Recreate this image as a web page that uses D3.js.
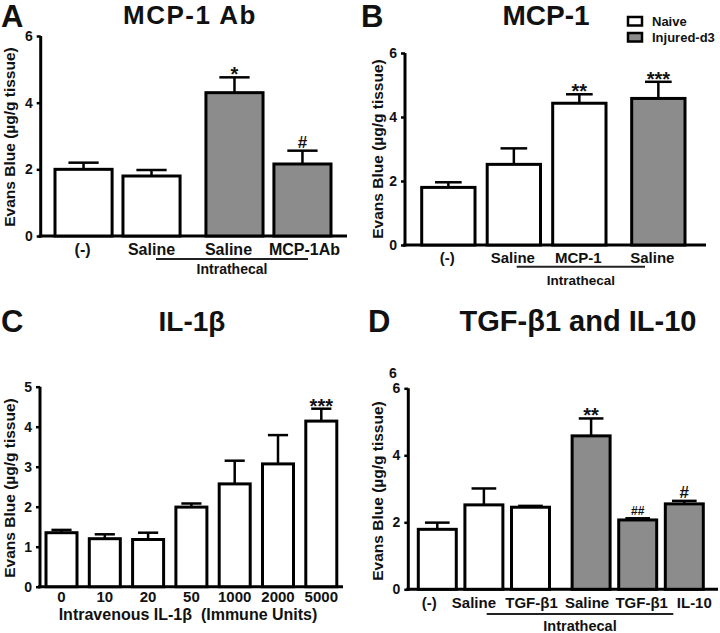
<!DOCTYPE html>
<html>
<head>
<meta charset="utf-8">
<script src="https://cdn.jsdelivr.net/npm/d3@7/dist/d3.min.js"></script>
<style>
  html, body { margin: 0; padding: 0; background: #fff; }
  svg { display: block; }
  text { font-family: "Liberation Sans", Arial, Helvetica, sans-serif; font-weight: bold; fill: #111; }
</style>
</head>
<body>
<svg id="chart" width="720" height="633"></svg>
<script>
// ---------------- DATA ----------------
const groupNames = ["Naive", "Injured-d3"];

const aCats   = ["(-)", "Saline", "Saline", "MCP-1Ab"];
const aMeans  = [2.0, 1.8, 4.3, 2.16];
const aSem    = [0.2, 0.18, 0.46, 0.4];
const aGroups = ["Naive", "Naive", "Injured-d3", "Injured-d3"];
const aMarks  = ["", "", "*", "#"];
const aTicks  = [0, 2, 4, 6];

const bCats   = ["(-)", "Saline", "MCP-1", "Saline"];
const bMeans  = [1.8, 2.52, 4.43, 4.58];
const bSem    = [0.16, 0.5, 0.28, 0.52];
const bGroups = ["Naive", "Naive", "Naive", "Injured-d3"];
const bMarks  = ["", "", "**", "***"];
const bTicks  = [0, 2, 4, 6];

const cCats   = ["0", "10", "20", "50", "1000", "2000", "5000"];
const cMeans  = [1.35, 1.2, 1.18, 1.99, 2.57, 3.07, 4.14];
const cSem    = [0.07, 0.11, 0.17, 0.09, 0.58, 0.72, 0.31];
const cGroups = ["Naive", "Naive", "Naive", "Naive", "Naive", "Naive", "Naive"];
const cMarks  = ["", "", "", "", "", "", "***"];
const cTicks  = [0, 1, 2, 3, 4, 5];

const dCats   = ["(-)", "Saline", "TGF-β1", "Saline", "TGF-β1", "IL-10"];
const dMeans  = [1.79, 2.52, 2.45, 4.58, 2.07, 2.55];
const dSem    = [0.2, 0.49, 0.04, 0.52, 0.05, 0.09];
const dGroups = ["Naive", "Naive", "Naive", "Injured-d3", "Injured-d3", "Injured-d3"];
const dMarks  = ["", "", "", "**", "##", "#"];
const dTicks  = [0, 2, 4, 6];

// ---------------- DRAW ----------------
const svg = d3.select("#chart");
const color = d3.scaleOrdinal().domain(groupNames).range(["#ffffff", "#8c8c8c"]);

function panel(cfg) {
  const g = svg.append("g");
  const y = d3.scaleLinear().domain([0, cfg.ymax]).range([cfg.y0, cfg.ytop]);
  const x = d3.scaleBand().domain(d3.range(cfg.cats.length)).range(cfg.xr)
    .paddingInner(cfg.pad).paddingOuter(0);
  const bx = i => x(i) + (cfg.gapAt != null && i >= cfg.gapAt ? cfg.gap : 0);
  const bw = x.bandwidth();
  const data = cfg.cats.map((c, i) => ({ i, c, m: cfg.means[i], s: cfg.sem[i], g: cfg.groups[i], k: cfg.marks[i] }));

  // x axis line
  g.append("line").attr("x1", cfg.ax - 2).attr("x2", cfg.axEnd)
    .attr("y1", y(0)).attr("y2", y(0)).attr("stroke", "#000").attr("stroke-width", 3);

  // error bars
  const eb = g.selectAll(".eb").data(data).enter().append("g");
  eb.append("line").attr("x1", d => bx(d.i) + bw / 2).attr("x2", d => bx(d.i) + bw / 2)
    .attr("y1", d => y(d.m)).attr("y2", d => y(d.m + d.s))
    .attr("stroke", "#000").attr("stroke-width", 2.5);
  eb.append("line").attr("x1", d => bx(d.i) + bw / 2 - bw * cfg.cap / 2)
    .attr("x2", d => bx(d.i) + bw / 2 + bw * cfg.cap / 2)
    .attr("y1", d => y(d.m + d.s)).attr("y2", d => y(d.m + d.s))
    .attr("stroke", "#000").attr("stroke-width", 2.5);

  // bars
  g.selectAll(".bar").data(data).enter().append("rect")
    .attr("x", d => bx(d.i)).attr("width", bw)
    .attr("y", d => y(d.m)).attr("height", d => y(0) - y(d.m))
    .attr("fill", d => color(d.g)).attr("stroke", "#000").attr("stroke-width", 3);

  // significance marks
  g.selectAll(".mk").data(data.filter(d => d.k)).enter().append("text")
    .attr("x", d => bx(d.i) + bw / 2)
    .attr("y", d => {
      const t = y(d.m + d.s);
      if (d.k[0] === "*") return t + 4;
      return t - 3;
    })
    .attr("text-anchor", "middle")
    .attr("font-size", d => d.k[0] === "*" ? 20 : (d.k.length > 1 ? 12 : 17))
    .text(d => d.k);

  // y axis
  const yAxis = d3.axisLeft(y).tickValues(cfg.ticks).tickSize(4).tickSizeOuter(0).tickPadding(4)
    .tickFormat(d3.format("d"));
  const ya = g.append("g").attr("transform", `translate(${cfg.ax},0)`).call(yAxis);
  ya.select(".domain").attr("stroke", "#000").attr("stroke-width", 3)
    .attr("d", `M0,${cfg.y0 + 1.5}V${cfg.ytop}`);
  ya.selectAll(".tick line").attr("stroke", "#000").attr("stroke-width", 2.5);
  ya.selectAll(".tick text").attr("font-size", 14).attr("fill", "#111")
    .style("font-weight", "bold");

  // y label
  g.append("text").attr("transform", `translate(${cfg.ylx},${cfg.yly}) rotate(-90)`)
    .attr("text-anchor", "middle").attr("font-size", 15.5).text("Evans Blue (µg/g tissue)");

  // category labels (with small layout nudges as in the original figure)
  g.selectAll(".cl").data(data).enter().append("text")
    .attr("x", d => bx(d.i) + bw / 2 + (cfg.labDx ? cfg.labDx[d.i] : 0)).attr("y", cfg.labY)
    .attr("text-anchor", "middle").attr("font-size", cfg.labSize).text(d => d.c);

  // title + letter
  g.append("text").attr("x", cfg.titleX).attr("y", cfg.titleY).attr("text-anchor", "middle")
    .attr("font-size", cfg.titleSize).style("letter-spacing", cfg.titleLS || 0).text(cfg.title);
  g.append("text").attr("x", cfg.letterX).attr("y", cfg.letterY)
    .attr("font-size", 31).text(cfg.letter);

  // intrathecal bracket
  if (cfg.intra) {
    g.append("line").attr("x1", cfg.intra.x1).attr("x2", cfg.intra.x2)
      .attr("y1", cfg.intra.ly).attr("y2", cfg.intra.ly).attr("stroke", "#222").attr("stroke-width", 2);
    g.append("text").attr("x", (cfg.intra.x1 + cfg.intra.x2) / 2).attr("y", cfg.intra.ty)
      .attr("text-anchor", "middle").attr("font-size", cfg.intra.size).text("Intrathecal");
  }
  return g;
}

panel({ cats: aCats, means: aMeans, sem: aSem, groups: aGroups, marks: aMarks, ticks: aTicks,
  ymax: 6, y0: 236, ytop: 36, ax: 40.7, axEnd: 347, xr: [55, 316], pad: 0.16, gapAt: 2, gap: 15, cap: 0.53,
  ylx: 14.5, yly: 137, labY: 255, labSize: 16, labDx: [-1, 0, -6, 2],
  title: "MCP-1 Ab", titleX: 190, titleY: 23.5, titleSize: 26, titleLS: "1.5px",
  letter: "A", letterX: 1, letterY: 27,
  intra: { x1: 156, x2: 308, ly: 259, ty: 274, size: 14 } });

panel({ cats: bCats, means: bMeans, sem: bSem, groups: bGroups, marks: bMarks, ticks: bTicks,
  ymax: 6, y0: 245, ytop: 53, ax: 405, axEnd: 706, xr: [421.7, 671.5], pad: 0.186, gapAt: 3, gap: 13.5, cap: 0.5,
  ylx: 383, yly: 149, labY: 263, labSize: 15, labDx: [-1, -1, -1, -6],
  title: "MCP-1", titleX: 546, titleY: 25, titleSize: 28,
  letter: "B", letterX: 361, letterY: 27,
  intra: { x1: 516.7, x2: 645, ly: 266.7, ty: 285, size: 13.5 } });

panel({ cats: cCats, means: cMeans, sem: cSem, groups: cGroups, marks: cMarks, ticks: cTicks,
  ymax: 5, y0: 586.7, ytop: 386.7, ax: 40, axEnd: 343, xr: [46, 336.8], pad: 0.284, gapAt: null, gap: 0, cap: 0.65,
  ylx: 14.5, yly: 488, labY: 602, labSize: 15,
  title: "IL-1β", titleX: 192, titleY: 331, titleSize: 28,
  letter: "C", letterX: 1, letterY: 332 });

svg.append("text").attr("x", 188).attr("y", 620).attr("text-anchor", "middle")
  .attr("font-size", 16).attr("xml:space", "preserve").style("white-space", "pre")
  .text("Intravenous IL-1β  (Immune Units)");

panel({ cats: dCats, means: dMeans, sem: dSem, groups: dGroups, marks: dMarks, ticks: dTicks,
  ymax: 6, y0: 589.3, ytop: 388.3, ax: 408.3, axEnd: 718, xr: [418.3, 689.3], pad: 0.185, gapAt: 3, gap: 14, cap: 0.65,
  ylx: 383, yly: 491, labY: 608, labSize: 15, labDx: [-8, -10, 1, -4, 4, 10],
  title: "TGF-β1 and IL-10", titleX: 578, titleY: 331, titleSize: 29,
  letter: "D", letterX: 368, letterY: 332,
  intra: { x1: 486.7, x2: 673.3, ly: 614, ty: 631, size: 14.5 } });

// stray duplicate axis label in panel D
svg.append("text").attr("x", 393).attr("y", 378).attr("text-anchor", "middle")
  .attr("font-size", 14).text(dTicks[dTicks.length - 1]);

// legend (panel B)
const legend = svg.append("g").attr("transform", "translate(628,17)");
legend.selectAll("rect").data(groupNames).enter().append("rect")
  .attr("x", 0).attr("y", (d, i) => i * 16).attr("width", 14).attr("height", 8.5)
  .attr("fill", d => color(d)).attr("stroke", "#000").attr("stroke-width", 2.5);
legend.selectAll("text").data(groupNames).enter().append("text")
  .attr("x", 24).attr("y", (d, i) => 9 + i * 16).attr("font-size", 13).text(d => d);
</script>
</body>
</html>
